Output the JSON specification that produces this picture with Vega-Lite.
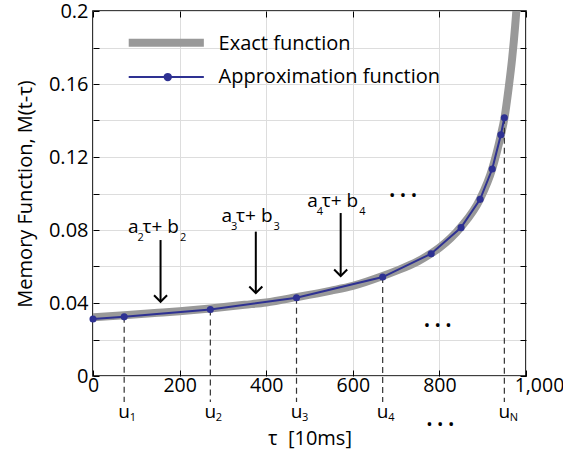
{
  "$schema": "https://vega.github.io/schema/vega-lite/v6.json",
  "width": 433,
  "height": 365,
  "autosize": {"type": "none"},
  "padding": {"left": 93, "top": 11, "right": 37, "bottom": 92},
  "background": "white",
  "config": {
    "font": "Open Sans",
    "view": {"stroke": "black", "strokeWidth": 1.6},
    "axis": {"labelColor": "black", "titleColor": "black", "tickColor": "black", "titleFontWeight": "normal", "labelFlush": false, "labelOverlap": false}
  },
  "datasets": {
    "exact": [
      {"tau": 0, "m": 0.0322}, {"tau": 72, "m": 0.0333}, {"tau": 150, "m": 0.0346}, {"tau": 200, "m": 0.0355},
      {"tau": 271, "m": 0.0370}, {"tau": 350, "m": 0.0390}, {"tau": 400, "m": 0.0403}, {"tau": 470, "m": 0.0432},
      {"tau": 550, "m": 0.0468}, {"tau": 600, "m": 0.0494}, {"tau": 669, "m": 0.0548}, {"tau": 700, "m": 0.0576},
      {"tau": 750, "m": 0.0628}, {"tau": 781, "m": 0.0672}, {"tau": 800, "m": 0.0703}, {"tau": 850, "m": 0.0817},
      {"tau": 894, "m": 0.0970}, {"tau": 922, "m": 0.1135}, {"tau": 942, "m": 0.1320}, {"tau": 950, "m": 0.1410},
      {"tau": 960, "m": 0.1580}, {"tau": 968, "m": 0.1740}, {"tau": 975, "m": 0.1920}, {"tau": 980, "m": 0.2080},
      {"tau": 986, "m": 0.2350}, {"tau": 992, "m": 0.2800}
    ],
    "approx": [
      {"tau": 0, "m": 0.0312}, {"tau": 72, "m": 0.0324}, {"tau": 271, "m": 0.0364}, {"tau": 470, "m": 0.0429},
      {"tau": 669, "m": 0.0542}, {"tau": 781, "m": 0.0670}, {"tau": 850, "m": 0.0813}, {"tau": 894, "m": 0.0968},
      {"tau": 922, "m": 0.1134}, {"tau": 942, "m": 0.1322}, {"tau": 950, "m": 0.1415}
    ],
    "knots": [
      {"tau": 72, "m": 0.0324, "sub": "1"},
      {"tau": 271, "m": 0.0364, "sub": "2"},
      {"tau": 470, "m": 0.0429, "sub": "3"},
      {"tau": 669, "m": 0.0542, "sub": "4"},
      {"tau": 950, "m": 0.1415, "sub": "N"}
    ],
    "arrows": [
      {"tau": 156, "top": 0.0745, "tip": 0.0407},
      {"tau": 376, "top": 0.0791, "tip": 0.0455},
      {"tau": 572, "top": 0.0893, "tip": 0.0548}
    ],
    "notes": [
      {"tau": 81, "m": 0.0782, "sub": "2"},
      {"tau": 297, "m": 0.0846, "sub": "3"},
      {"tau": 495, "m": 0.0928, "sub": "4"}
    ],
    "dots": [
      {"tau": 716, "m": 0.0985},
      {"tau": 796, "m": 0.0272},
      {"tau": 802, "m": -0.0270}
    ],
    "legend": [
      {"series": "exact", "label": "Exact function"},
      {"series": "approx", "label": "Approximation function"}
    ]
  },
  "resolve": {"axis": {"x": "independent", "y": "independent"}},
  "layer": [
    {
      "data": {"name": "exact"},
      "mark": {"type": "line", "color": "#999999", "strokeWidth": 8, "clip": true, "interpolate": "monotone"},
      "encoding": {
        "x": {"field": "tau", "type": "quantitative", "scale": {"domain": [0, 1000], "nice": false},
          "axis": {"orient": "bottom", "title": "τ\u00a0 [10ms]", "values": [0, 200, 400, 600, 800, 1000], "format": ",d",
            "domain": false, "tickSize": -6, "labelFontSize": 19.5, "labelPadding": 6, "titleFontSize": 20, "titlePadding": 34,
            "labelOffset": {"condition": {"test": "datum.value == 1000", "value": 13}, "value": 0}}},
        "y": {"field": "m", "type": "quantitative", "scale": {"domain": [0, 0.2], "nice": false},
          "axis": {"orient": "left", "title": "Memory Function, M(t-τ)", "values": [0, 0.02, 0.04, 0.06, 0.08, 0.1, 0.12, 0.14, 0.16, 0.18, 0.2],
            "labelExpr": "round(datum.value*50) % 2 == 0 ? format(datum.value, '.2~f') : ''",
            "domain": false, "tickSize": -6, "labelFontSize": 20, "labelPadding": 11, "titleFontSize": 20, "titlePadding": 13}}
      }
    },
    {
      "data": {"name": "knots"},
      "mark": {"type": "rule", "color": "#333333", "strokeWidth": 1.2, "strokeDash": [6, 4]},
      "encoding": {
        "x": {"field": "tau", "type": "quantitative", "axis": null},
        "y": {"field": "m", "type": "quantitative", "axis": null},
        "y2": {"datum": -0.0142}
      }
    },
    {
      "data": {"name": "approx"},
      "mark": {"type": "line", "color": "#2e3192", "strokeWidth": 2, "point": {"filled": true, "size": 50, "color": "#2e3192"}},
      "encoding": {
        "x": {"field": "tau", "type": "quantitative",
          "axis": {"orient": "top", "labels": false, "title": null, "domain": false, "tickSize": -6, "values": [0, 200, 400, 600, 800, 1000]}},
        "y": {"field": "m", "type": "quantitative",
          "axis": {"orient": "right", "labels": false, "title": null, "domain": false, "tickSize": -6, "values": [0, 0.02, 0.04, 0.06, 0.08, 0.1, 0.12, 0.14, 0.16, 0.18, 0.2]}}
      }
    },
    {
      "data": {"name": "knots"},
      "mark": {"type": "text", "text": "u", "fontSize": 19, "align": "center", "baseline": "alphabetic", "color": "black"},
      "encoding": {
        "x": {"field": "tau", "type": "quantitative", "axis": null},
        "y": {"datum": -0.0232, "axis": null}
      }
    },
    {
      "data": {"name": "knots"},
      "mark": {"type": "text", "fontSize": 11, "align": "left", "baseline": "alphabetic", "dx": 5.5, "dy": 2.5, "color": "black"},
      "encoding": {
        "x": {"field": "tau", "type": "quantitative", "axis": null},
        "y": {"datum": -0.0232, "axis": null},
        "text": {"field": "sub"}
      }
    },
    {
      "data": {"name": "arrows"},
      "mark": {"type": "rule", "color": "black", "strokeWidth": 2},
      "encoding": {
        "x": {"field": "tau", "type": "quantitative", "axis": null},
        "y": {"field": "top", "type": "quantitative", "axis": null},
        "y2": {"field": "tip"}
      }
    },
    {
      "data": {"name": "arrows"},
      "mark": {"type": "point", "shape": "M-1,-1L0,0L1,-1", "filled": false, "stroke": "black", "strokeWidth": 2, "size": 170, "opacity": 1},
      "encoding": {
        "x": {"field": "tau", "type": "quantitative", "axis": null},
        "y": {"field": "tip", "type": "quantitative", "axis": null}
      }
    },
    {
      "data": {"name": "notes"},
      "mark": {"type": "text", "text": "a", "fontSize": 19, "align": "left", "baseline": "alphabetic", "color": "black"},
      "encoding": {
        "x": {"field": "tau", "type": "quantitative", "axis": null},
        "y": {"field": "m", "type": "quantitative", "axis": null}
      }
    },
    {
      "data": {"name": "notes"},
      "mark": {"type": "text", "fontSize": 11, "align": "left", "baseline": "alphabetic", "dx": 9.5, "dy": 8, "color": "black"},
      "encoding": {
        "x": {"field": "tau", "type": "quantitative", "axis": null},
        "y": {"field": "m", "type": "quantitative", "axis": null},
        "text": {"field": "sub"}
      }
    },
    {
      "data": {"name": "notes"},
      "mark": {"type": "text", "text": "τ+ b", "fontSize": 19, "align": "left", "baseline": "alphabetic", "dx": 14.5, "color": "black"},
      "encoding": {
        "x": {"field": "tau", "type": "quantitative", "axis": null},
        "y": {"field": "m", "type": "quantitative", "axis": null}
      }
    },
    {
      "data": {"name": "notes"},
      "mark": {"type": "text", "fontSize": 11, "align": "left", "baseline": "alphabetic", "dx": 52, "dy": 8, "color": "black"},
      "encoding": {
        "x": {"field": "tau", "type": "quantitative", "axis": null},
        "y": {"field": "m", "type": "quantitative", "axis": null},
        "text": {"field": "sub"}
      }
    },
    {
      "data": {"name": "dots"},
      "mark": {"type": "text", "text": "• • •", "fontSize": 17, "align": "center", "baseline": "middle", "color": "black"},
      "encoding": {
        "x": {"field": "tau", "type": "quantitative", "axis": null},
        "y": {"field": "m", "type": "quantitative", "axis": null}
      }
    },
    {
      "data": {"name": "legend"},
      "transform": [{"filter": "datum.series == 'exact'"}],
      "mark": {"type": "rule", "color": "#999999", "strokeWidth": 8},
      "encoding": {
        "x": {"datum": 82.5, "axis": null},
        "x2": {"datum": 256},
        "y": {"datum": 0.1826, "axis": null}
      }
    },
    {
      "data": {"name": "legend"},
      "transform": [{"filter": "datum.series == 'approx'"}],
      "mark": {"type": "rule", "color": "#2e3192", "strokeWidth": 2},
      "encoding": {
        "x": {"datum": 82.5, "axis": null},
        "x2": {"datum": 256},
        "y": {"datum": 0.1638, "axis": null}
      }
    },
    {
      "data": {"name": "legend"},
      "transform": [{"filter": "datum.series == 'approx'"}],
      "mark": {"type": "point", "filled": true, "size": 70, "color": "#2e3192", "opacity": 1},
      "encoding": {
        "x": {"datum": 172.7, "axis": null},
        "y": {"datum": 0.1638, "axis": null}
      }
    },
    {
      "data": {"name": "legend"},
      "transform": [{"filter": "datum.series == 'exact'"}],
      "mark": {"type": "text", "fontSize": 20, "align": "left", "baseline": "alphabetic", "color": "black"},
      "encoding": {
        "x": {"datum": 290, "axis": null},
        "y": {"datum": 0.1786, "axis": null},
        "text": {"field": "label"}
      }
    },
    {
      "data": {"name": "legend"},
      "transform": [{"filter": "datum.series == 'approx'"}],
      "mark": {"type": "text", "fontSize": 20, "align": "left", "baseline": "alphabetic", "color": "black"},
      "encoding": {
        "x": {"datum": 290, "axis": null},
        "y": {"datum": 0.1604, "axis": null},
        "text": {"field": "label"}
      }
    }
  ]
}
